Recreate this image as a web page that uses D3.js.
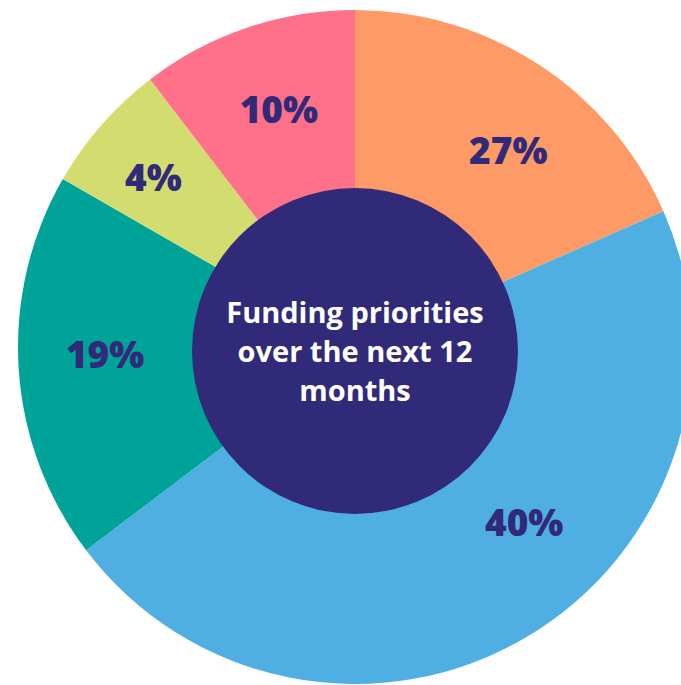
<!DOCTYPE html>
<html>
<head>
<meta charset="utf-8">
<script src="https://cdn.jsdelivr.net/npm/d3@7"></script>
<style>
  html, body { margin: 0; padding: 0; background: #ffffff; }
  svg { display: block; }
</style>
</head>
<body>
<svg id="chart" width="681" height="685"></svg>
<script>
const categories = ["A", "B", "C", "D", "E"];
const shares = [18.4, 46.3, 18.6, 6.3, 10.4];
const labels = ["27%", "40%", "19%", "4%", "10%"];
const colors = ["#FE9A66", "#50AFE2", "#00A398", "#D2DC6F", "#FF7089"];
const centerLines = ["Funding priorities", "over the next 12", "months"];

// Label placement tweaks (degrees, radius) — layout only
const labelNudgeDeg = [4.7, -13.7, 2, -1, 1];
const labelRadius = [250, 243, 250, 264, 250];

const svg = d3.select("#chart");
const cx = 355, cy = 347, R = 337;
const innerCx = 355, innerCy = 351, innerR = 163;

const data = categories.map((c, i) => ({ cat: c, value: shares[i], label: labels[i], color: colors[i], i }));

const pie = d3.pie().value(d => d.value).sort(null);
const arcs = pie(data);
const arc = d3.arc().innerRadius(0).outerRadius(R);

const g = svg.append("g").attr("transform", `translate(${cx},${cy})`);
g.selectAll("path.slice")
  .data(arcs)
  .join("path")
  .attr("class", "slice")
  .attr("d", arc)
  .attr("fill", d => d.data.color);

// Labels
g.selectAll("text.lbl")
  .data(arcs)
  .join("text")
  .attr("class", "lbl")
  .attr("transform", d => {
    const a = (d.startAngle + d.endAngle) / 2 + labelNudgeDeg[d.index] * Math.PI / 180;
    const r = labelRadius[d.index];
    return `translate(${r * Math.sin(a)},${-r * Math.cos(a)})`;
  })
  .attr("text-anchor", "middle")
  .attr("dominant-baseline", "central")
  .attr("font-family", "'Open Sans', Lato, sans-serif")
  .attr("font-weight", 800)
  .attr("font-size", 37)
  .attr("fill", "#302A78")
  .text(d => d.data.label);

// Center circle
svg.append("circle")
  .attr("cx", innerCx).attr("cy", innerCy).attr("r", innerR)
  .attr("fill", "#302A78");

const ct = svg.append("text")
  .attr("text-anchor", "middle")
  .attr("font-family", "'Open Sans', Lato, sans-serif")
  .attr("font-weight", 700)
  .attr("font-size", 29)
  .attr("fill", "#ffffff");
centerLines.forEach((t, i) => {
  ct.append("tspan").attr("x", 355).attr("y", 323 + i * 39).text(t);
});
</script>
</body>
</html>
